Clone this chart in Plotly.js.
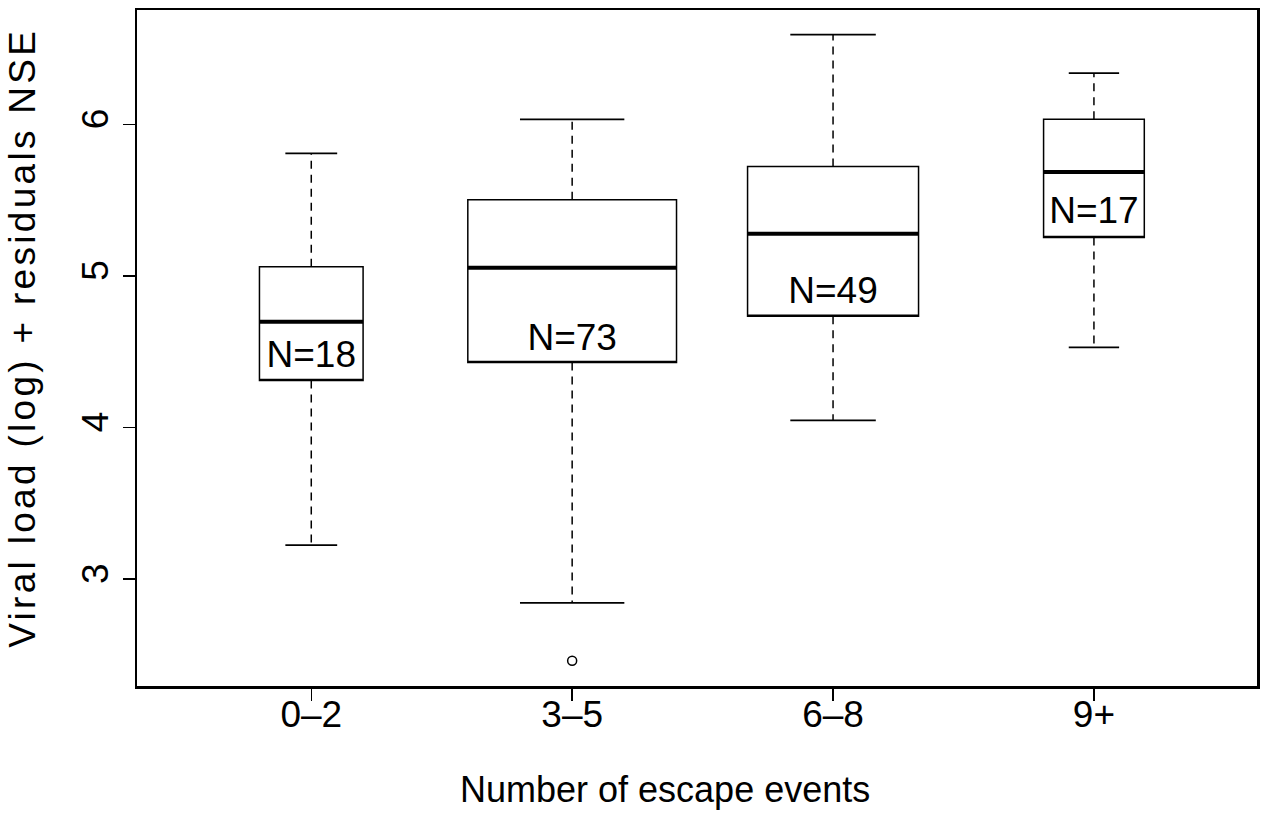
<!DOCTYPE html>
<html>
<head>
<meta charset="utf-8">
<script src="https://cdn.plot.ly/plotly-3.0.1.min.js"></script>
<style>
html,body{margin:0;padding:0;background:#fff;}
#chart{width:1261px;height:828px;}
g.annotation[data-index="1"] text{letter-spacing:3.3px;}
</style>
</head>
<body>
<div id="chart"></div>
<script>
// ---- data ----
var categories = ["0\u20132", "3\u20135", "6\u20138", "9+"];
var counts     = [18, 73, 49, 17];
var lowerWhisk = [3.224, 2.844, 4.048, 4.529];
var q1Vals     = [4.310, 4.429, 4.734, 5.254];
var medians    = [4.699, 5.055, 5.279, 5.686];
var q3Vals     = [5.061, 5.503, 5.722, 6.035];
var upperWhisk = [5.809, 6.033, 6.593, 6.339];
var outlierCat = [1];
var outlierVal = [2.462];
var labelY     = [4.46, 4.573, 4.88, 5.41];
var yTicks     = [3, 4, 5, 6];
var xTitle     = 'Number of escape events';
var yTitle     = 'Viral load (log) + residuals NSE';

// ---- drawing ----
var FONT = "Liberation Sans, Arial, Helvetica, sans-serif";
var maxSqrt = Math.max.apply(null, counts.map(function(n){return Math.sqrt(n);}));
var widths = counts.map(function(n){ return 0.8 * Math.sqrt(n) / maxSqrt; });
var pos = categories.map(function(c, i){ return i; });

var traces = [];
pos.forEach(function(p, i){
  traces.push({
    type: 'box', x: [p], q1: [q1Vals[i]], median: [q1Vals[i]], q3: [q3Vals[i]],
    lowerfence: [q1Vals[i]], upperfence: [q3Vals[i]],
    width: widths[i], boxpoints: false, fillcolor: 'rgba(0,0,0,0)',
    line: {color: '#000', width: 1.5}, whiskerwidth: 0,
    hoverinfo: 'skip', showlegend: false
  });
});
var wx = [], wy = [], cx = [], cy = [], mx = [], my = [];
pos.forEach(function(p, i){
  wx.push(p, p, null, p, p, null);
  wy.push(q3Vals[i], upperWhisk[i], null, q1Vals[i], lowerWhisk[i], null);
  var cw = widths[i] / 4;
  cx.push(p - cw, p + cw, null, p - cw, p + cw, null);
  cy.push(upperWhisk[i], upperWhisk[i], null, lowerWhisk[i], lowerWhisk[i], null);
  var mw = widths[i] / 2;
  mx.push(p - mw, p + mw, null);
  my.push(medians[i], medians[i], null);
});
traces.push({type:'scatter', mode:'lines', x: wx, y: wy, line:{color:'#000', width:1.5, dash:'8px,6px'}, hoverinfo:'skip', showlegend:false});
traces.push({type:'scatter', mode:'lines', x: cx, y: cy, line:{color:'#000', width:1.8}, hoverinfo:'skip', showlegend:false});
traces.push({type:'scatter', mode:'lines', x: mx, y: my, line:{color:'#000', width:4}, hoverinfo:'skip', showlegend:false});
traces.push({type:'scatter', mode:'markers', x: outlierCat, y: outlierVal,
  marker:{symbol:'circle-open', size:9, color:'#000', line:{width:1.5}}, hoverinfo:'skip', showlegend:false});
traces.push({type:'scatter', mode:'text', x: pos, y: labelY,
  text: counts.map(function(n){ return 'N=' + n; }),
  textfont:{family: FONT, size: 37, color:'#000'}, textposition:'middle center',
  hoverinfo:'skip', showlegend:false});

var layout = {
  width: 1261, height: 828,
  margin: {l: 137, r: 4, t: 10, b: 142},
  paper_bgcolor: '#fff', plot_bgcolor: '#fff',
  font: {family: FONT, size: 37, color: '#000'},
  xaxis: {
    range: [-0.668, 3.625], tickmode: 'array', tickvals: pos, ticktext: categories,
    showgrid: false, zeroline: false, showline: true, mirror: true, linecolor: '#000', linewidth: 2.5,
    ticks: 'outside', ticklen: 12, tickwidth: 1.5, tickcolor: '#000',
    ticklabelstandoff: -18,
    tickfont: {family: FONT, size: 37}
  },
  yaxis: {
    range: [2.295, 6.755], tickmode: 'array', tickvals: yTicks, ticktext: yTicks.map(String),
    tickangle: -90,
    showgrid: false, zeroline: false, showline: true, mirror: true, linecolor: '#000', linewidth: 2.5,
    ticks: 'outside', ticklen: 12, tickwidth: 1.5, tickcolor: '#000',
    tickfont: {family: FONT, size: 37}
  },
  annotations: [
    {text: xTitle, xref: 'paper', yref: 'paper', x: 0.4714, y: -0.1538,
     xanchor: 'center', yanchor: 'middle', showarrow: false, font: {family: FONT, size: 36, color: '#000'}},
    {text: yTitle, xref: 'paper', yref: 'paper', x: -0.1018, y: 0.5148, textangle: -90,
     xanchor: 'center', yanchor: 'middle', showarrow: false, font: {family: FONT, size: 37, color: '#000'}}
  ],
  showlegend: false
};

Plotly.newPlot('chart', traces, layout, {staticPlot: true, displayModeBar: false});
</script>
</body>
</html>
